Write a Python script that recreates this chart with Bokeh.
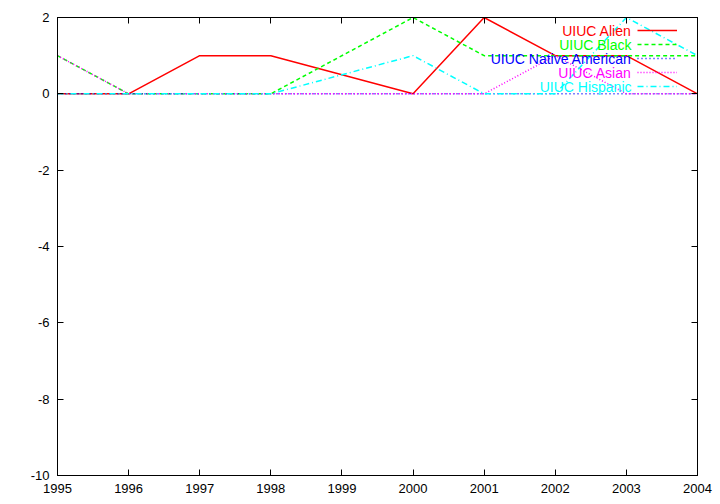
from bokeh.plotting import figure
from bokeh.models import Range1d, FixedTicker, LinearAxis, Legend, LegendItem, Label
from bokeh.embed import file_html
from bokeh.resources import INLINE

# ---- data (1999 missing in the source data) ----
years = [1995, 1996, 1997, 1998, 2000, 2001, 2002, 2003, 2004]
alien = [0, 0, 1, 1, 0, 2, 1, 1, 0]
black = [1, 0, 0, 0, 2, 1, 1, 1, 1]
native = [0, 0, 0, 0, 0, 0, 0, 0, 0]
asian = [1, 0, 0, 0, 0, 0, 1, 0, 0]
hispanic = [0, 0, 0, 0, 1, 0, 0, 2, 1]

series_names = ["UIUC Alien", "UIUC Black", "UIUC Native American", "UIUC Asian", "UIUC Hispanic"]
x_ticks = [1995, 1996, 1997, 1998, 1999, 2000, 2001, 2002, 2003, 2004]
y_ticks = [-10, -8, -6, -4, -2, 0, 2]
y_tick_labels = ["-10", "-8", "-6", "-4", "-2", "0", "2"]

# ---- styles ----
colors = ["#ff0000", "#00ff00", "#0000ff", "#ff00ff", "#00ffff"]
dashes = ["solid", "4 3", "1 3", "1 2", "6 3 1 3"]
FONT = "Liberation Sans"

W, H = 720, 504
BL, BR, BT, BB = 57, 23, 17, 29
p = figure(width=W, height=H, output_backend="svg", toolbar_location=None,
           x_range=Range1d(1995, 2004), y_range=Range1d(-10, 2),
           min_border_left=BL, min_border_right=BR, min_border_top=BT, min_border_bottom=BB)
p.grid.visible = False
p.outline_line_color = "black"
p.outline_line_width = 1
p.background_fill_color = "white"
p.border_fill_color = "white"

# main axes
for ax in (p.xaxis[0], p.yaxis[0]):
    ax.axis_line_color = "black"
    ax.major_tick_in = 6
    ax.major_tick_out = 0
    ax.minor_tick_line_color = None
    ax.major_label_text_font = FONT
    ax.major_label_text_font_size = "13px"
    ax.major_label_text_color = "black"
p.xaxis[0].ticker = FixedTicker(ticks=x_ticks)
p.xaxis[0].major_label_standoff = 8
p.yaxis[0].ticker = FixedTicker(ticks=y_ticks)
p.yaxis[0].major_label_overrides = {t: s for t, s in zip(y_ticks, y_tick_labels)}
p.yaxis[0].major_label_standoff = 8

# mirrored ticks (top, right), no labels
top = LinearAxis(ticker=FixedTicker(ticks=x_ticks))
right = LinearAxis(ticker=FixedTicker(ticks=y_ticks))
for ax in (top, right):
    ax.major_tick_in = 6
    ax.major_tick_out = 0
    ax.minor_tick_line_color = None
    ax.major_label_text_font_size = "1px"
    ax.major_label_text_color = None
    ax.major_label_standoff = 0
    ax.axis_line_color = "black"
p.add_layout(top, "above")
p.add_layout(right, "right")

values = [alien, black, native, asian, hispanic]
renderers = []
for vals, c, d in zip(values, colors, dashes):
    r = p.line(years, vals, line_color=c, line_width=1.5, line_dash=d)
    renderers.append(r)

# legend: sample lines on the right, text right-aligned left of them (gnuplot style)
frame_h = H - BT - BB
row_h = 14
first_row_center = 13
legend = Legend(items=[LegendItem(label=" ", renderers=[r]) for r in renderers],
                location=(580, frame_h - first_row_center + row_h // 2 - row_h * 5),
                glyph_width=40, glyph_height=row_h, label_height=row_h, label_width=0,
                label_standoff=0, spacing=0, padding=0, margin=0,
                border_line_color=None, background_fill_alpha=0,
                label_text_font_size="1px", label_text_color=None)
p.add_layout(legend)

for i, (name, c) in enumerate(zip(series_names, colors)):
    p.add_layout(Label(x=574, y=frame_h - first_row_center - row_h * i,
                       x_units="screen", y_units="screen", text=name,
                       text_align="right", text_baseline="middle",
                       text_color=c, text_font=FONT, text_font_size="14px"))

open("out.html", "w").write(file_html(p, INLINE))
